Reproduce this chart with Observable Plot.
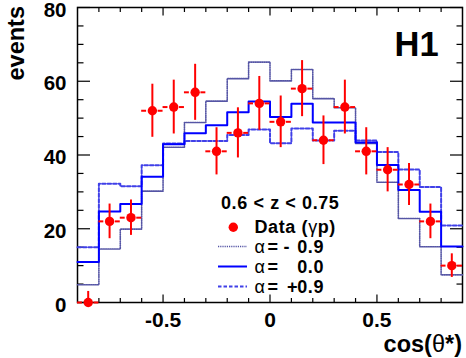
<!DOCTYPE html>
<html><head><meta charset="utf-8">
<script src="https://cdn.jsdelivr.net/npm/d3@7"></script>
<script src="https://cdn.jsdelivr.net/npm/@observablehq/plot@0.6"></script>
<style>html,body{margin:0;padding:0;background:#fff;} #chart{width:466px;height:358px;}</style>
</head><body><div id="chart"></div>
<script>
// ---- data ----
const binCenters = [-0.85,-0.75,-0.65,-0.55,-0.45,-0.35,-0.25,-0.15,-0.05,0.05,0.15,0.25,0.35,0.45,0.55,0.65,0.75,0.85];
const binWidth = 0.1;
const dataCounts = [0,22,23,52,53,57,41,46,54,49,58,44,53,41,36,32,22,10];
const dataErrors = [3,4.7,4.8,7.2,7.3,7.6,6.4,6.8,7.3,7.0,7.6,6.6,7.3,6.4,6.0,5.7,4.7,3.2];
const alphaMinus09 = [4.8,14.5,19.9,30.2,42.1,48.8,54.6,60.7,65.2,60.1,63.2,55.3,52.8,43.1,32.6,22.8,15.1,7.5];
const alphaZero    = [11,24.7,26.7,34.1,42.9,45.9,48.1,51.6,54.5,50.3,53.9,48.8,48.8,43.4,37.3,30.5,24.6,15.2];
const alphaPlus09  = [15,32.2,31.5,37.2,43.1,43.8,43.8,45.4,46.9,43.2,47.2,43.9,46.6,43.9,40.8,36.1,31.3,20.9];
const xMajorTicks = [-0.5,0,0.5];
const xTickLabels = ["-0.5","0","0.5"];
const xMinorTicks = [-0.8,-0.7,-0.6,-0.4,-0.3,-0.2,-0.1,0.1,0.2,0.3,0.4,0.6,0.7,0.8];
const yMajorTicks = [0,20,40,60,80];
const yTickLabels = ["0","20","40","60","80"];
const yMinorTicks = [5,10,15,25,30,35,45,50,55,65,70,75];
const zRangeLabel = "0.6 < z < 0.75";
const seriesNames = ["- 0.9","0.0","+0.9"];

const FONT = "'Liberation Sans', Arial, Helvetica, sans-serif";

function steps(values) {
  const pts = binCenters.map((c, i) => ({x: c - binWidth / 2, y: values[i]}));
  pts.push({x: binCenters[binCenters.length - 1] + binWidth / 2, y: values[values.length - 1]});
  return pts;
}
const points = binCenters.map((c, i) => ({
  x: c, y: dataCounts[i],
  lo: Math.max(0, dataCounts[i] - dataErrors[i]),
  hi: dataCounts[i] + dataErrors[i]
}));

const dottedStyle = {stroke: "#5555a5", strokeWidth: 1.6, strokeDasharray: "1.2,1"};
const solidStyle = {stroke: "#0000ff", strokeWidth: 2};
const dashedStyle = {stroke: "#4040e8", strokeWidth: 2, strokeDasharray: "3.5,2"};

const xFmt = d => xTickLabels[xMajorTicks.indexOf(d)];
const yFmt = d => yTickLabels[yMajorTicks.indexOf(d)];

const plot = Plot.plot({
  width: 466, height: 358,
  marginLeft: 77, marginRight: 4, marginTop: 7, marginBottom: 56,
  x: {domain: [-0.9, 0.9], axis: null},
  y: {domain: [0, 80], axis: null},
  style: {fontFamily: FONT, fontWeight: "bold", color: "black", background: "white", overflow: "visible"},
  marks: [
    Plot.frame({stroke: "black", strokeWidth: 1.5}),
    Plot.axisX({anchor: "bottom", ticks: xMajorTicks, tickSize: -7.5, fill: "none", label: null, strokeWidth: 1.2}),
    Plot.axisX({anchor: "top", ticks: xMajorTicks, tickSize: -7.5, fill: "none", label: null, strokeWidth: 1.2}),
    Plot.axisX({anchor: "bottom", ticks: xMinorTicks, tickSize: -4, fill: "none", label: null, strokeWidth: 1.2}),
    Plot.axisX({anchor: "top", ticks: xMinorTicks, tickSize: -4, fill: "none", label: null, strokeWidth: 1.2}),
    Plot.axisY({anchor: "left", ticks: yMajorTicks, tickSize: -13, fill: "none", label: null, strokeWidth: 1.2}),
    Plot.axisY({anchor: "right", ticks: yMajorTicks, tickSize: -13, fill: "none", label: null, strokeWidth: 1.2}),
    Plot.axisY({anchor: "left", ticks: yMinorTicks, tickSize: -6.5, fill: "none", label: null, strokeWidth: 1.2}),
    Plot.axisY({anchor: "right", ticks: yMinorTicks, tickSize: -6.5, fill: "none", label: null, strokeWidth: 1.2}),
    Plot.axisX({anchor: "bottom", ticks: xMajorTicks, tickSize: 0, tickPadding: 10, tickFormat: xFmt, label: null, fontSize: 21, fontWeight: "bold", fill: "black"}),
    Plot.axisY({anchor: "left", ticks: yMajorTicks, tickSize: 0, tickPadding: 11, dy: 2.5, tickFormat: yFmt, label: null, fontSize: 20.5, fontWeight: "bold", fill: "black"}),
    Plot.line(steps(alphaMinus09), {x: "x", y: "y", curve: "step-after", ...dottedStyle}),
    Plot.line(steps(alphaPlus09), {x: "x", y: "y", curve: "step-after", ...dashedStyle}),
    Plot.line(steps(alphaZero), {x: "x", y: "y", curve: "step-after", ...solidStyle}),
    Plot.ruleX(points, {x: "x", y1: "lo", y2: "hi", stroke: "red", strokeWidth: 2}),
    Plot.ruleY(points, {y: "y", x1: d => d.x - binWidth / 2, x2: d => d.x - binWidth * 0.27, stroke: "red", strokeWidth: 2}),
    Plot.ruleY(points, {y: "y", x1: d => d.x + binWidth * 0.27, x2: d => d.x + binWidth / 2, stroke: "red", strokeWidth: 2}),
    Plot.dot(points, {x: "x", y: "y", r: 4.7, fill: "red", stroke: "none"})
  ]
});
document.getElementById("chart").appendChild(plot);

// ---- annotations and legend ----
const svg = d3.select(plot);
const g = svg.append("g").attr("font-family", FONT).attr("font-weight", "bold").attr("fill", "black")
  .attr("text-anchor", "start");

// axis titles
g.append("text").attr("transform", "translate(24,6) rotate(-90)").attr("text-anchor", "end")
  .attr("font-size", 23.5).text("events");
const xt = g.append("text").attr("x", 462).attr("y", 352).attr("text-anchor", "end").attr("font-size", 23.5);
xt.append("tspan").text("cos(");
xt.append("tspan").attr("font-weight", "normal").text("θ");
xt.append("tspan").text("*)");

// H1 label
g.append("text").attr("x", 394.5).attr("y", 56).attr("text-anchor", "start").attr("font-size", 34.5).text("H1");

// legend
const fs = 18;
const ls = 0.6;
g.append("text").attr("x", 221).attr("y", 209).attr("text-anchor", "start").attr("font-size", fs)
  .attr("letter-spacing", ls).text(zRangeLabel);
g.append("circle").attr("cx", 233.3).attr("cy", 227.3).attr("r", 4.7).attr("fill", "red");
const dt = g.append("text").attr("x", 254.5).attr("y", 232.5).attr("text-anchor", "start").attr("font-size", fs)
  .attr("letter-spacing", ls);
dt.append("tspan").text("Data (");
dt.append("tspan").attr("font-weight", "normal").text("γ");
dt.append("tspan").text("p)");

const styles = [dottedStyle, solidStyle, dashedStyle];
const rowBase = [252.5, 272.5, 292.5];
styles.forEach((s, i) => {
  const yb = rowBase[i];
  const ln = g.append("line").attr("x1", 218).attr("x2", 247).attr("y1", yb - 6).attr("y2", yb - 6)
    .attr("stroke", s.stroke).attr("stroke-width", s.strokeWidth);
  if (s.strokeDasharray) ln.attr("stroke-dasharray", s.strokeDasharray);
  g.append("text").attr("x", 254.5).attr("y", yb).attr("text-anchor", "start").attr("font-size", fs).attr("font-weight", "normal").text("α");
  g.append("text").attr("x", 267.5).attr("y", yb).attr("text-anchor", "start").attr("font-size", fs).text("=");
  const name = seriesNames[i];
  const num = name.replace(/^[-+]\s*/, "");
  const sign = name.slice(0, name.length - num.length).trim();
  g.append("text").attr("x", 324).attr("y", yb).attr("text-anchor", "end").attr("font-size", fs)
    .attr("letter-spacing", ls).text(num);
  if (sign) g.append("text").attr("x", sign === "-" ? 283.5 : 287).attr("y", yb).attr("text-anchor", "start").attr("font-size", fs).text(sign);
});
</script>
</body></html>
